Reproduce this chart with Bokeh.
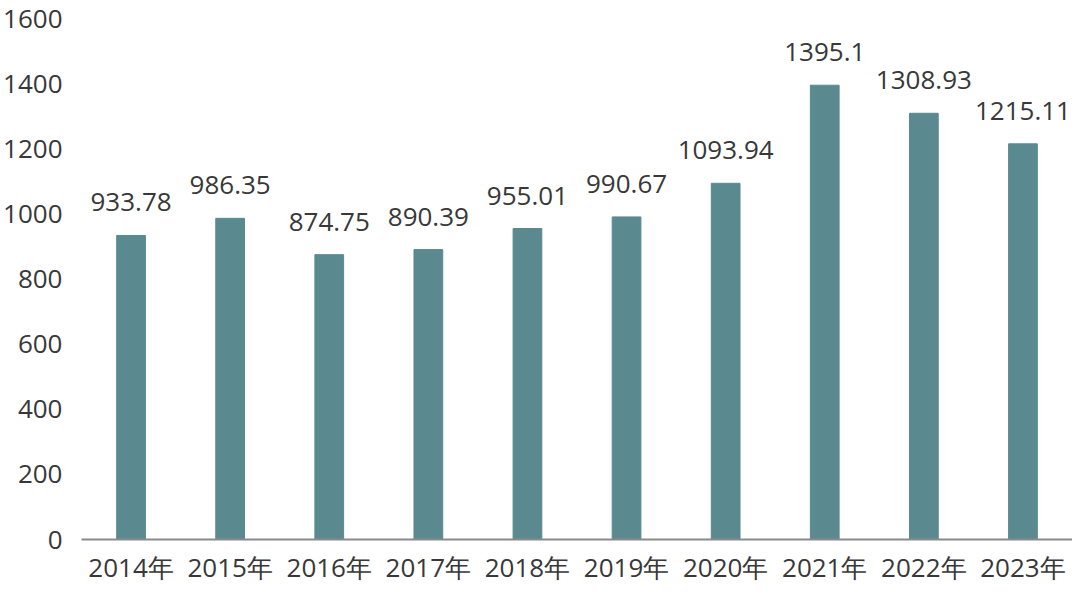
from bokeh.plotting import figure
from bokeh.models import ColumnDataSource, FactorRange, Range1d, FixedTicker
from bokeh.core.properties import value
from bokeh.embed import file_html
from bokeh.resources import INLINE

years = ["2014年", "2015年", "2016年", "2017年", "2018年", "2019年", "2020年", "2021年", "2022年", "2023年"]
values = [933.78, 986.35, 874.75, 890.39, 955.01, 990.67, 1093.94, 1395.1, 1308.93, 1215.11]
labels = ["933.78", "986.35", "874.75", "890.39", "955.01", "990.67", "1093.94", "1395.1", "1308.93", "1215.11"]
y_ticks = [0, 200, 400, 600, 800, 1000, 1200, 1400, 1600]

FONT = "Open Sans"
TXT = "#383838"
BAR = "#5a8a90"

src = ColumnDataSource(dict(x=years, top=values, label=labels))

p = figure(x_range=FactorRange(*years, range_padding=0), y_range=Range1d(0, 1600),
           width=1072, height=587, output_backend="svg", toolbar_location=None,
           min_border_left=73, min_border_right=0, min_border_top=18, min_border_bottom=30)
p.outline_line_color = None
p.grid.visible = False
p.background_fill_color = "white"

p.vbar(x="x", top="top", width=0.29, source=src, fill_color=BAR, line_color=BAR)
p.text(x="x", y="top", text="label", source=src, text_align="center", text_baseline="alphabetic",
       y_offset=-33, text_font=value(FONT), text_font_size="26px", text_color=TXT)

p.yaxis.ticker = FixedTicker(ticks=y_ticks)
p.yaxis.axis_line_color = None
p.yaxis.major_tick_line_color = None
p.yaxis.minor_tick_line_color = None
p.yaxis.major_label_standoff = 13
p.yaxis.major_label_text_font = FONT
p.yaxis.major_label_text_font_size = "26px"
p.yaxis.major_label_text_color = TXT

p.xaxis.axis_line_color = "#8a8a8a"
p.xaxis.axis_line_width = 2
p.xaxis.major_tick_line_color = None
p.xaxis.minor_tick_line_color = None
p.xaxis.major_tick_out = 0
p.xaxis.major_tick_in = 0
p.xaxis.major_label_standoff = 9
p.xaxis.major_label_text_font = FONT
p.xaxis.major_label_text_font_size = "26px"
p.xaxis.major_label_text_color = TXT

open("out.html", "w").write(file_html(p, INLINE))
